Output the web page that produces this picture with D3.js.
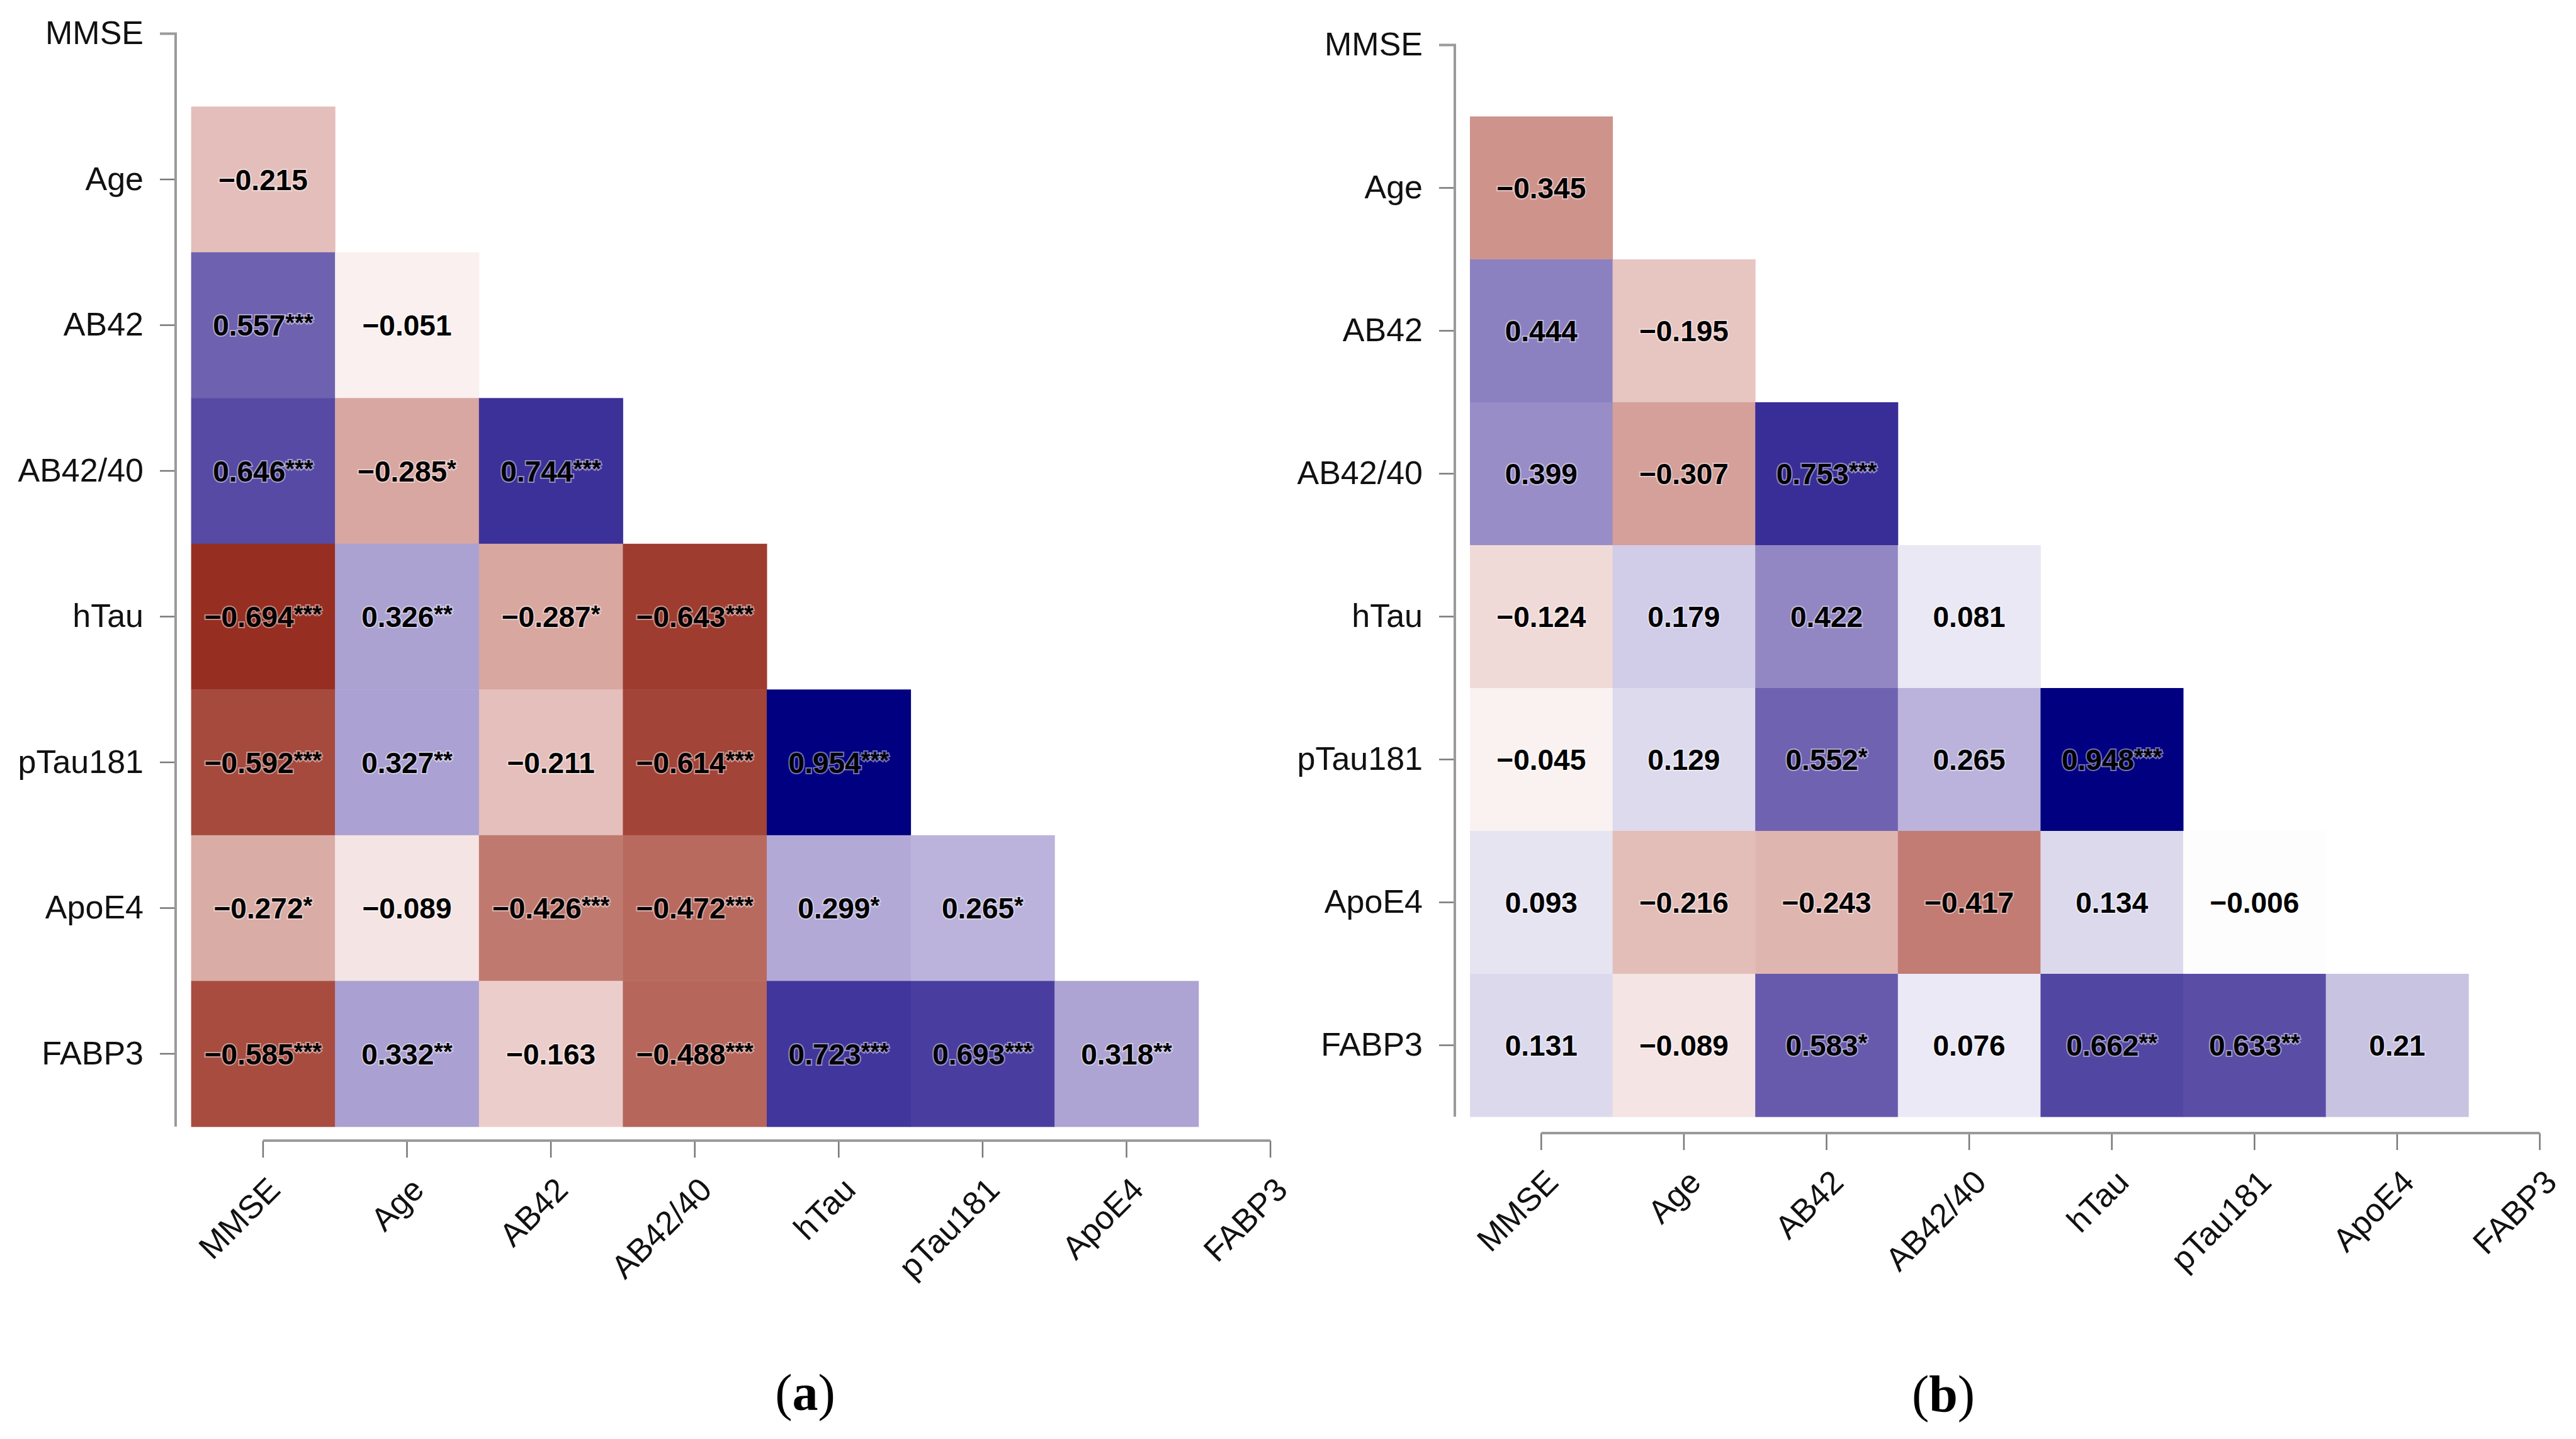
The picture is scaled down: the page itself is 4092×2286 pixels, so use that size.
<!DOCTYPE html>
<html>
<head>
<meta charset="utf-8">
<script src="https://cdn.jsdelivr.net/npm/d3@7"></script>
<style>
  html, body { margin: 0; padding: 0; background: #ffffff; }
  svg { display: block; }
</style>
</head>
<body>
<svg id="chart" width="4092" height="2286"></svg>
<script>
// ---------------- DATA ----------------
const variables = ["MMSE", "Age", "AB42", "AB42/40", "hTau", "pTau181", "ApoE4", "FABP3"];

// lower triangle, rows Age..FABP3, columns MMSE..(row-1)
const corrA = [
  [-0.215],
  [0.557, -0.051],
  [0.646, -0.285, 0.744],
  [-0.694, 0.326, -0.287, -0.643],
  [-0.592, 0.327, -0.211, -0.614, 0.954],
  [-0.272, -0.089, -0.426, -0.472, 0.299, 0.265],
  [-0.585, 0.332, -0.163, -0.488, 0.723, 0.693, 0.318]
];
const starsA = [
  [""],
  ["***", ""],
  ["***", "*", "***"],
  ["***", "**", "*", "***"],
  ["***", "**", "", "***", "***"],
  ["*", "", "***", "***", "*", "*"],
  ["***", "**", "", "***", "***", "***", "**"]
];

const corrB = [
  [-0.345],
  [0.444, -0.195],
  [0.399, -0.307, 0.753],
  [-0.124, 0.179, 0.422, 0.081],
  [-0.045, 0.129, 0.552, 0.265, 0.948],
  [0.093, -0.216, -0.243, -0.417, 0.134, -0.006],
  [0.131, -0.089, 0.583, 0.076, 0.662, 0.633, 0.21]
];
const starsB = [
  [""],
  ["", ""],
  ["", "", "***"],
  ["", "", "", ""],
  ["", "", "*", "", "***"],
  ["", "", "", "", "", ""],
  ["", "", "*", "", "**", "**", ""]
];

const panelLabels = ["a", "b"];

// ---------------- STYLE ----------------
const colorStops = [-0.7, -0.47, -0.2, 0, 0.3, 0.55, 0.75, 0.95];
const colorRange = ["#962c20", "#b96b60", "#e6c3bf", "#ffffff", "#b2a9d6", "#7063b0", "#3a2f98", "#000080"];
const color = d3.scaleLinear().domain(colorStops).range(colorRange).interpolate(d3.interpolateRgb).clamp(true);

const layouts = [
  { x0: 303.6, bw: 228.6, y0: -62.2, bh: 231.5, axisX: 279, axisY: 1812, capX: 1279, capY: 2240 },
  { x0: 2335,  bw: 226.6, y0: -42,   bh: 227,   axisX: 2311, axisY: 1800, capX: 3087, capY: 2242 }
];

const svg = d3.select("#chart");

function buildCells(corr, stars) {
  const cells = [];
  corr.forEach((row, i) => {
    row.forEach((v, j) => {
      cells.push({ row: variables[i + 1], col: variables[j], v: v, s: stars[i][j] });
    });
  });
  return cells;
}

function fmt(v) {
  return String(v).replace("-", "\u2212");
}

function drawPanel(corr, stars, L, label) {
  const g = svg.append("g");
  const x = d3.scaleBand().domain(variables).range([L.x0, L.x0 + L.bw * variables.length]).padding(0);
  const y = d3.scaleBand().domain(variables).range([L.y0, L.y0 + L.bh * variables.length]).padding(0);
  const cells = buildCells(corr, stars);

  // cells
  g.append("g").selectAll("rect").data(cells).join("rect")
    .attr("x", d => x(d.col))
    .attr("y", d => y(d.row))
    .attr("width", x.bandwidth() + 0.5)
    .attr("height", y.bandwidth() + 0.5)
    .attr("fill", d => color(d.v));

  // values
  const t = g.append("g").selectAll("text").data(cells).join("text")
    .attr("x", d => x(d.col) + x.bandwidth() / 2)
    .attr("y", d => y(d.row) + y.bandwidth() / 2)
    .attr("dy", "0.36em")
    .attr("text-anchor", "middle")
    .style("font-family", "'Liberation Sans', Arial, Helvetica, sans-serif")
    .style("font-size", "46px")
    .style("font-weight", "bold")
    .style("fill", "#000")
    .style("paint-order", "stroke")
    .style("stroke", "rgba(255,255,255,0.45)")
    .style("stroke-width", "4px");
  t.append("tspan").text(d => fmt(d.v));
  t.filter(d => d.s).append("tspan")
    .attr("dy", "-7")
    .style("font-size", "38px")
    .text(d => d.s);

  // y axis
  const yAxis = d3.axisLeft(y).tickSize(25).tickPadding(26);
  const ya = g.append("g").attr("transform", `translate(${L.axisX},0)`).call(yAxis);
  ya.select(".domain").remove();
  ya.append("path")
    .attr("d", `M-25,${y(variables[0]) + y.bandwidth() / 2}H0V${L.y0 + L.bh * variables.length}`)
    .attr("fill", "none").attr("stroke", "#9a9a9a").attr("stroke-width", 4);
  ya.selectAll(".tick line").attr("stroke", "#777").attr("stroke-width", 2.5);
  ya.selectAll(".tick text")
    .style("font-family", "'Liberation Sans', Arial, Helvetica, sans-serif")
    .style("font-size", "52px")
    .style("fill", "#111");

  // x axis
  const xAxis = d3.axisBottom(x).tickSize(27);
  const xa = g.append("g").attr("transform", `translate(0,${L.axisY})`).call(xAxis);
  xa.select(".domain").remove();
  xa.append("path")
    .attr("d", `M${x(variables[0]) + x.bandwidth() / 2},0H${x(variables[variables.length - 1]) + x.bandwidth() / 2}`)
    .attr("fill", "none").attr("stroke", "#9a9a9a").attr("stroke-width", 4);
  xa.selectAll(".tick line").attr("stroke", "#777").attr("stroke-width", 2.5);
  xa.selectAll(".tick text")
    .attr("x", 0).attr("y", 0).attr("dy", 0)
    .attr("text-anchor", "end")
    .attr("transform", "translate(30,81) rotate(-45)")
    .style("font-family", "'Liberation Sans', Arial, Helvetica, sans-serif")
    .style("font-size", "52px")
    .style("fill", "#111");

  // caption
  const cap = svg.append("text")
    .attr("x", L.capX).attr("y", L.capY)
    .attr("text-anchor", "middle")
    .style("font-family", "'Liberation Serif', 'Times New Roman', serif")
    .style("font-size", "82px")
    .style("fill", "#000");
  cap.append("tspan").text("(");
  cap.append("tspan").style("font-weight", "bold").text(label);
  cap.append("tspan").text(")");
}

drawPanel(corrA, starsA, layouts[0], panelLabels[0]);
drawPanel(corrB, starsB, layouts[1], panelLabels[1]);
</script>
</body>
</html>
